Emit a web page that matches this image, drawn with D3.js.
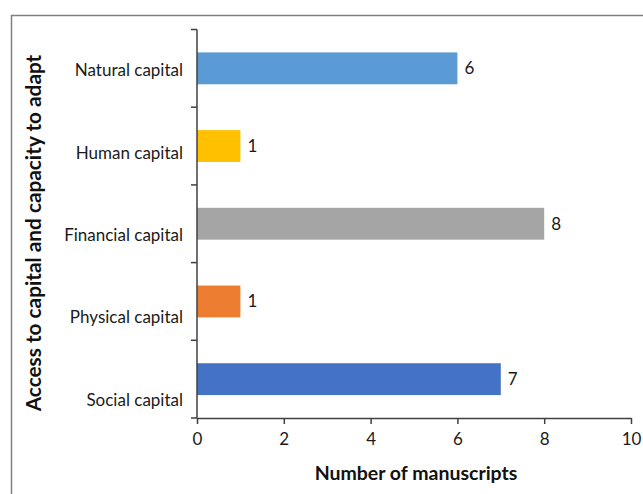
<!DOCTYPE html>
<html>
<head>
<meta charset="utf-8">
<script src="https://cdn.jsdelivr.net/npm/d3@7"></script>
<style>
  body { margin: 0; background: #fff; }
  text { font-family: Lato, "Open Sans", sans-serif; }
</style>
</head>
<body>
<div id="chart"></div>
<script>
// Chart data (top to bottom)
const categories = ["Natural capital", "Human capital", "Financial capital", "Physical capital", "Social capital"];
const counts = [6, 1, 8, 1, 7];
const barColors = ["#5b9bd5", "#ffc000", "#a5a5a5", "#ed7d31", "#4472c4"];
const xTicks = [0, 2, 4, 6, 8, 10];

const width = 643;
const height = 494;

const svg = d3.select("#chart")
  .append("svg")
  .attr("width", width)
  .attr("height", height);

// Outer frame (runs off the right and bottom edge)
svg.append("rect")
  .attr("x", 11.5)
  .attr("y", 15.5)
  .attr("width", 700)
  .attr("height", 600)
  .attr("fill", "none")
  .attr("stroke", "#7f7f7f")
  .attr("stroke-width", 1.5);

// Scales
const x = d3.scaleLinear().domain([0, 10]).range([197, 631]);

const y = d3.scaleBand()
  .domain(categories)
  .range([29.5, 418])
  .paddingInner(0.59)
  .paddingOuter(0.295);

// category labels sit a bit lower than the bars, as in the original
const yLabel = d3.scaleBand()
  .domain(categories)
  .range([29, 441]);

// Bars
svg.selectAll(".bar")
  .data(categories)
  .join("rect")
  .attr("class", "bar")
  .attr("x", x(0))
  .attr("y", (d) => y(d))
  .attr("width", (d, i) => x(counts[i]) - x(0))
  .attr("height", y.bandwidth())
  .attr("fill", (d, i) => barColors[i]);

// Value labels
svg.selectAll(".value")
  .data(categories)
  .join("text")
  .attr("class", "value")
  .attr("x", (d, i) => x(counts[i]) + 7)
  .attr("y", (d) => y(d) + y.bandwidth() / 2)
  .attr("dy", "0.35em")
  .style("font-size", "17px")
  .style("fill", "#1a1a1a")
  .text((d, i) => counts[i]);

// x axis
const xAxis = svg.append("g")
  .attr("transform", "translate(0,418)")
  .call(d3.axisBottom(x).tickValues(xTicks).tickSize(6).tickPadding(9).tickSizeOuter(0));
xAxis.select(".domain").attr("stroke", "#404040").attr("stroke-width", 1.5);
xAxis.selectAll(".tick line").attr("stroke", "#404040").attr("stroke-width", 1.5);
xAxis.selectAll("text")
  .style("font-family", "Lato, sans-serif")
  .style("font-size", "17px")
  .style("fill", "#1a1a1a");

// y axis: line plus ticks at category boundaries
svg.append("line")
  .attr("x1", x(0)).attr("x2", x(0))
  .attr("y1", 29.5).attr("y2", 418)
  .attr("stroke", "#404040")
  .attr("stroke-width", 1.5);
svg.selectAll(".ytick")
  .data(categories.concat(["end"]))
  .join("line")
  .attr("class", "ytick")
  .attr("x1", x(0) - 6).attr("x2", x(0))
  .attr("y1", (d, i) => i < categories.length ? y(d) - y.step() * y.paddingOuter() : 418)
  .attr("y2", (d, i) => i < categories.length ? y(d) - y.step() * y.paddingOuter() : 418)
  .attr("stroke", "#404040")
  .attr("stroke-width", 1.5);

svg.selectAll(".ylabel")
  .data(categories)
  .join("text")
  .attr("class", "ylabel")
  .attr("x", 183)
  .attr("y", (d) => yLabel(d) + yLabel.bandwidth() / 2)
  .attr("dy", "0.35em")
  .attr("text-anchor", "end")
  .style("font-size", "17px")
  .style("fill", "#1a1a1a")
  .text((d) => d);

// Axis titles
svg.append("text")
  .text("Number of manuscripts")
  .attr("x", 416)
  .attr("y", 473)
  .attr("dy", "0.35em")
  .attr("text-anchor", "middle")
  .style("font-size", "19.5px")
  .style("font-weight", "bold")
  .style("fill", "#111");

svg.append("text")
  .text("Access to capital and capacity to adapt")
  .attr("transform", "translate(34,233) rotate(-90)")
  .attr("dy", "0.35em")
  .attr("text-anchor", "middle")
  .style("font-size", "20.8px")
  .style("font-weight", "bold")
  .style("fill", "#111");
</script>
</body>
</html>
